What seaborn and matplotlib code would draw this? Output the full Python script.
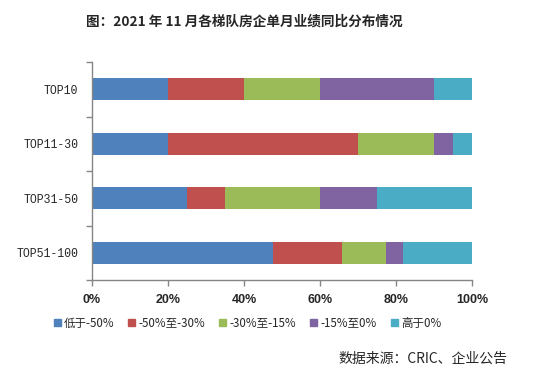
import seaborn as sns
import matplotlib.pyplot as plt
import matplotlib.patches as mpatches
import pandas as pd
import numpy as np

# Tier categories and share of firms in each YoY range (%)
tiers = ['TOP10', 'TOP11-30', 'TOP31-50', 'TOP51-100']
ranges = ['低于-50%', '-50%至-30%', '-30%至-15%', '-15%至0%', '高于0%']
below_50 = [20, 20, 25, 47.7]
m50_m30 = [20, 50, 10, 18]
m30_m15 = [20, 20, 25, 11.6]
m15_0 = [30, 5, 15, 4.5]
above_0 = [10, 5, 25, 18.2]
colors = ['#4f81bd', '#c0504d', '#9bbb59', '#8064a2', '#4bacc6']

df = pd.DataFrame({'tier': tiers, ranges[0]: below_50, ranges[1]: m50_m30,
                   ranges[2]: m30_m15, ranges[3]: m15_0, ranges[4]: above_0})
cum = df[ranges].cumsum(axis=1)
cum = cum.div(cum[ranges[-1]], axis=0) * 100
cum['tier'] = tiers

sns.set_style("white")
plt.rcParams['font.family'] = ['Noto Sans CJK SC', 'DejaVu Sans']

fig = plt.figure(figsize=(5.5, 3.92), dpi=100)
ax = fig.add_axes([92 / 550, 1 - 280 / 392, 380 / 550, 218 / 392])

# stacked bars: draw cumulative totals from the largest down
for name, col in reversed(list(zip(ranges, colors))):
    sns.barplot(data=cum, x=name, y='tier', order=tiers, color=col,
                width=0.4, orient='h', ax=ax, saturation=1, errorbar=None,
                linewidth=0)

ax.set_xlim(0, 100)
ax.set_ylim(3.5, -0.5)
ax.set_xlabel('')
ax.set_ylabel('')
ax.set_xticks(np.arange(0, 101, 20))
ax.set_xticklabels([f'{v}%' for v in range(0, 101, 20)],
                   fontsize=9, fontweight='bold', family='Liberation Sans')
ax.set_yticks(range(len(tiers)))
ax.set_yticklabels(tiers, fontsize=8.3, family='Liberation Mono')
ax.set_yticks(np.arange(-0.5, 4, 1), minor=True)
ax.tick_params(axis='y', which='major', length=0, pad=10)
ax.tick_params(axis='y', which='minor', length=4, color='#868686', width=1,
               direction='out', left=True)
ax.tick_params(axis='x', which='major', length=4, color='#868686', width=1,
               direction='out', bottom=True, pad=6)
for s in ['top', 'right']:
    ax.spines[s].set_visible(False)
for s in ['left', 'bottom']:
    ax.spines[s].set_color('#868686')
    ax.spines[s].set_linewidth(1)

fig.text(0.445, 1 - 22 / 392, '图：2021 年 11 月各梯队房企单月业绩同比分布情况',
         ha='center', va='center', fontsize=9.8, fontweight='bold')

handles = [mpatches.Patch(color=c, label=r) for r, c in zip(ranges, colors)]
fig.legend(handles=handles, loc='center', bbox_to_anchor=(0.45, 1 - 323 / 392),
           ncol=5, frameon=False, fontsize=8.3, handlelength=0.6, handleheight=0.6,
           handletextpad=0.3, columnspacing=1.2)

fig.text(507 / 550, 1 - 359 / 392, '数据来源：CRIC、企业公告',
         ha='right', va='center', fontsize=10)

plt.savefig('out.png', dpi=100)
